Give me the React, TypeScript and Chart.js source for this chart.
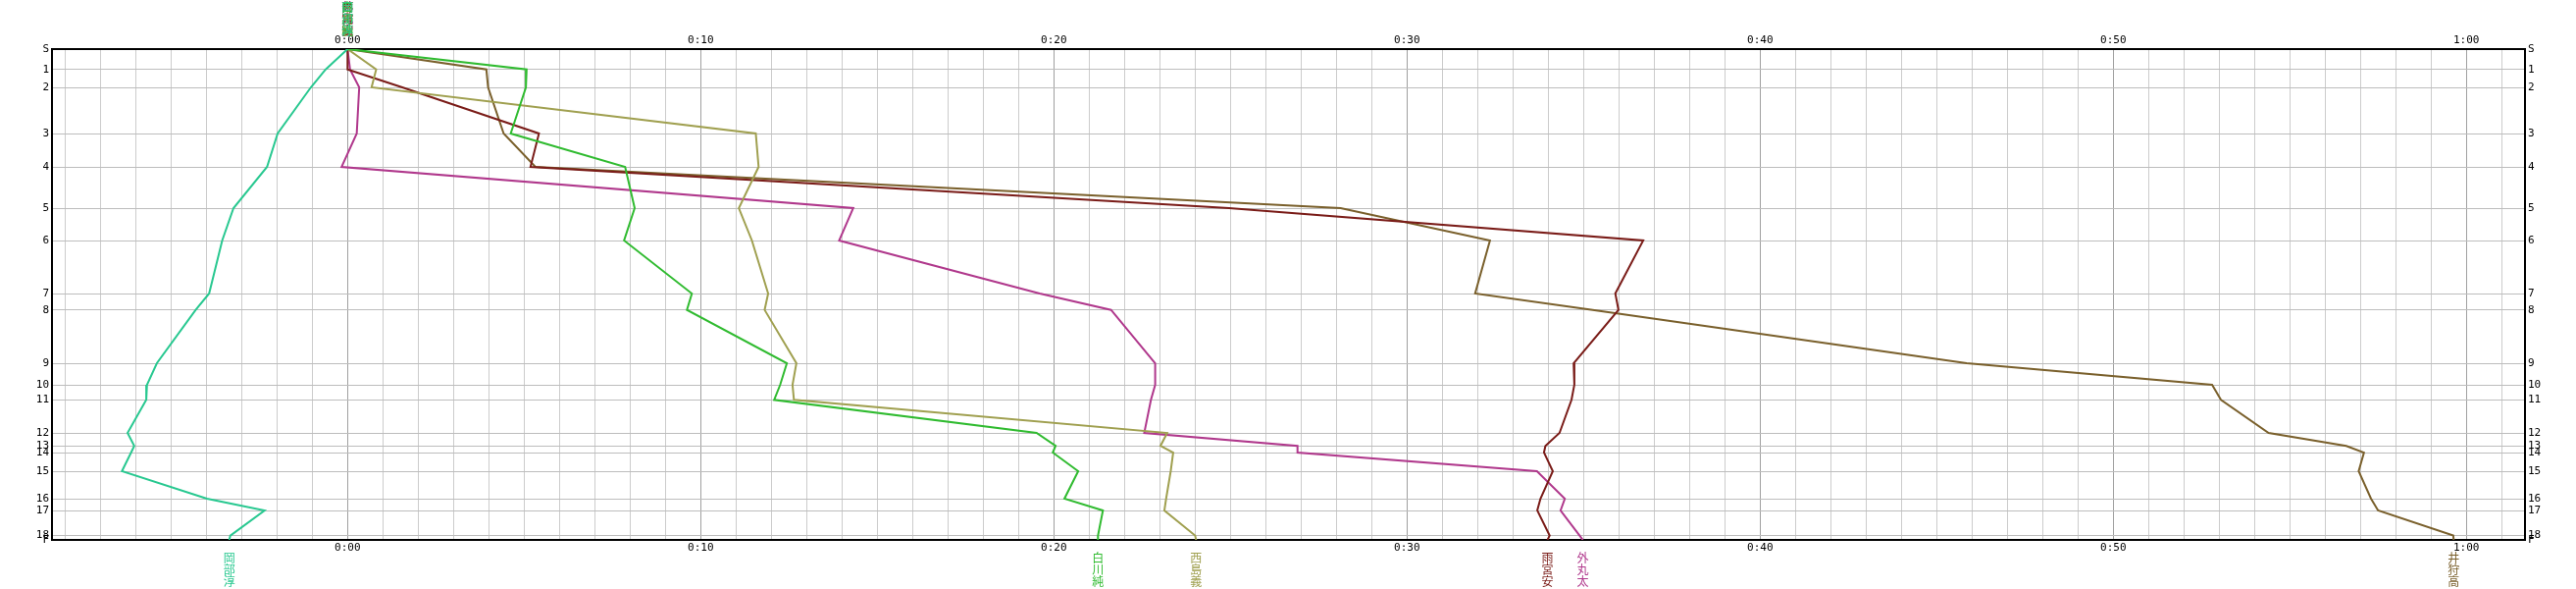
import React, { useEffect, useRef } from "react";
import { Chart, registerables } from "chart.js";

Chart.register(...registerables);

// Stations (relay points) and their distance position along the course (y)
const stationLabels = ["S", "1", "2", "3", "4", "5", "6", "7", "8", "9", "10", "11", "12", "13", "14", "15", "16", "17", "18", "F"];
const stationDist = [0, 20.7, 39, 86, 120, 162, 195, 249, 265.7, 320, 342, 357.3, 391, 404.2, 411, 430, 458, 470, 495.6, 500];

// Time axis (minutes behind reference)
const timeMin = -8.37;
const timeMax = 61.66;
const timeTickFirst = -8;
const timeTickLast = 61;

// Team names (final runners) and colours
const teamNames = ["岡部淳", "白川純", "西島義", "雨宮安", "外丸太", "井狩高"];
const teamColors = ["#28c890", "#30bb30", "#a0a050", "#7a1c18", "#b0388c", "#7a602c"];

// Time (minutes) at each station, S..F
const okabe = [0, -0.62, -1.04, -1.98, -2.28, -3.23, -3.55, -3.92, -4.3, -5.4, -5.68, -5.7, -6.23, -6.04, -6.13, -6.39, -3.98, -2.35, -3.32, -3.35];
const shirakawa = [0, 5.07, 5.05, 4.62, 7.86, 8.13, 7.83, 9.75, 9.61, 12.44, 12.25, 12.08, 19.51, 20.05, 19.97, 20.69, 20.3, 21.39, 21.25, 21.25];
const nishijima = [0, 0.81, 0.68, 11.56, 11.64, 11.08, 11.45, 11.91, 11.81, 12.71, 12.6, 12.64, 23.21, 23.02, 23.38, 23.31, 23.18, 23.13, 24.0, 24.03];
const amemiya = [0, 0, 1.55, 5.42, 5.18, 24.96, 36.69, 35.9, 35.99, 34.72, 34.74, 34.66, 34.32, 33.92, 33.88, 34.13, 33.78, 33.69, 34.04, 33.98];
const tomaru = [0, 0.07, 0.33, 0.26, -0.17, 14.32, 13.92, 19.6, 21.62, 22.87, 22.87, 22.75, 22.56, 26.9, 26.9, 33.68, 34.47, 34.35, 34.89, 34.98];
const ikari = [0, 3.93, 3.98, 4.42, 5.32, 28.12, 32.35, 31.93, 35.26, 45.85, 52.8, 53.05, 54.4, 56.6, 57.1, 56.95, 57.3, 57.5, 59.63, 59.64];

const teamTimes = [okabe, shirakawa, nishijima, amemiya, tomaru, ikari];

const tickFont = { family: "'DejaVu Sans Mono', monospace", size: 11 };

function fmtTime(v: number): string {
  const m = Math.round(v);
  if (m % 10 !== 0 || m < 0) return "";
  const h = Math.floor(m / 60);
  const mm = m % 60;
  return `${h}:${mm < 10 ? "0" + mm : mm}`;
}

const namesPlugin = {
  id: "runnerNames",
  afterDraw(chart: any) {
    const ctx = chart.ctx;
    const xs = chart.scales.x;
    const area = chart.chartArea;
    ctx.save();
    ctx.font = '12px "Noto Sans CJK JP"';
    ctx.textAlign = "center";
    ctx.textBaseline = "top";
    // end labels (bottom)
    teamTimes.forEach((t, i) => {
      const px = xs.getPixelForValue(t[t.length - 1]);
      ctx.fillStyle = teamColors[i];
      const chars = Array.from(teamNames[i]);
      chars.forEach((c, k) => ctx.fillText(c, px, area.bottom + 12 + k * 12));
    });
    // start labels (top) – all overlap at the start time
    for (let i = teamTimes.length - 1; i >= 0; i--) {
      const t = teamTimes[i];
      const px = xs.getPixelForValue(t[0]);
      ctx.fillStyle = teamColors[i];
      const chars = Array.from(teamNames[i]);
      chars.forEach((c, k) => ctx.fillText(c, px, 1 + k * 12));
    }
    ctx.restore();
  },
};

export default function App() {
  const ref = useRef<HTMLCanvasElement | null>(null);

  useEffect(() => {
    if (!ref.current) return;
    const xTicks = () => {
      const arr: { value: number }[] = [];
      for (let v = timeTickFirst; v <= timeTickLast; v++) arr.push({ value: v });
      return arr;
    };
    const yTicks = () => stationDist.map((d) => ({ value: d }));

    const xCommon = {
      type: "linear" as const,
      min: timeMin,
      max: timeMax,
      afterBuildTicks: (s: any) => { s.ticks = xTicks(); },
      ticks: {
        autoSkip: false,
        maxRotation: 0,
        minRotation: 0,
        padding: 2,
        color: "#000",
        font: tickFont,
        callback: (v: any) => fmtTime(Number(v)),
      },
      border: { display: true, color: "#000", width: 2 },
    };
    const yCommon = {
      type: "linear" as const,
      min: 0,
      max: 500,
      reverse: true,
      afterBuildTicks: (s: any) => { s.ticks = yTicks(); },
      ticks: {
        autoSkip: false,
        padding: 3,
        color: "#000",
        font: tickFont,
        callback: (v: any) => {
          const idx = stationDist.indexOf(Number(v));
          return idx >= 0 ? stationLabels[idx] : "";
        },
      },
      border: { display: true, color: "#000", width: 2 },
    };

    const chart = new Chart(ref.current, {
      type: "scatter",
      data: {
        datasets: teamTimes.map((t, i) => ({
          label: teamNames[i],
          data: t.map((v, k) => ({ x: v, y: stationDist[k] })),
          showLine: true,
          borderColor: teamColors[i],
          backgroundColor: teamColors[i],
          borderWidth: 2,
          pointRadius: 0,
          tension: 0,
        })),
      },
      options: {
        responsive: false,
        animation: false,
        devicePixelRatio: 1,
        layout: { padding: 0 },
        plugins: { legend: { display: false }, tooltip: { enabled: false } },
        scales: {
          x: {
            ...xCommon,
            position: "bottom",
            afterFit: (s: any) => { s.height = 50; },
            grid: {
              drawTicks: false,
              lineWidth: 1,
              color: (c: any) => (c.tick && Math.round(c.tick.value) % 10 === 0 ? "#a0a0a0" : "#cccccc"),
            },
          },
          x2: {
            ...xCommon,
            position: "top",
            afterFit: (s: any) => { s.height = 50; },
            grid: { display: false, drawTicks: false },
          },
          y: {
            ...yCommon,
            position: "left",
            afterFit: (s: any) => { s.width = 53; },
            grid: { drawTicks: false, lineWidth: 1, color: "#bdbdbd" },
          },
          y2: {
            ...yCommon,
            position: "right",
            afterFit: (s: any) => { s.width = 52; },
            grid: { display: false, drawTicks: false },
          },
        },
      } as any,
      plugins: [namesPlugin],
    });
    return () => chart.destroy();
  }, []);

  return (
    <canvas
      ref={ref}
      width={2626}
      height={600}
      style={{ position: "absolute", left: 0, top: 0, width: 2626, height: 600, display: "block" }}
    />
  );
}
